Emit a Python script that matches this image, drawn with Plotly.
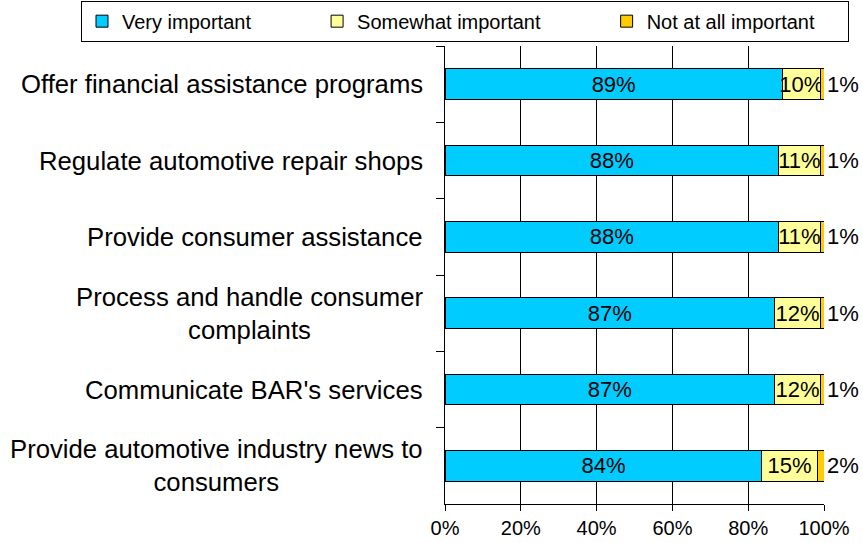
import plotly.graph_objects as go

categories = [
    "Offer financial assistance programs",
    "Regulate automotive repair shops",
    "Provide consumer assistance",
    "Process and handle consumer<br>complaints",
    "Communicate BAR's services",
    "Provide automotive industry news to<br>consumers",
]
very_important = [89, 88, 88, 87, 87, 83.6]
somewhat_important = [10, 11, 11, 12, 12, 14.6]
not_at_all_important = [1, 1, 1, 1, 1, 1.8]
series_names = ["Very important", "Somewhat important", "Not at all important"]
x_ticks = [0, 20, 40, 60, 80, 100]
x_tick_labels = ["0%", "20%", "40%", "60%", "80%", "100%"]

FONT = "Liberation Sans, Arial, sans-serif"
NB = "\u00a0"

fig = go.Figure()
specs = [
    (series_names[0], very_important, "#00CCFF", "inside", 11),
    (series_names[1], somewhat_important, "#FFFF99", "inside", 11),
    (series_names[2], not_at_all_important, "#FFCC00", "outside", 5),
]
for name, vals, color, pos, pad in specs:
    fig.add_trace(go.Bar(
        y=categories, x=vals, orientation="h", name=name + NB * pad,
        marker=dict(color=color, line=dict(color="black", width=1)),
        width=0.4,
        text=vals, texttemplate="%{x:.0f}%", textposition=pos,
        insidetextanchor="middle", constraintext="none",
        textfont=dict(family=FONT, size=22, color="black"),
        cliponaxis=False, hoverinfo="x+name",
    ))

for c in categories:
    fig.add_annotation(
        x=-0.0528, xref="paper", y=c, yref="y", text=c, showarrow=False,
        xanchor="right", yanchor="middle", align="center",
        font=dict(family=FONT, size=25.7, color="black"),
    )

fig.update_layout(
    barmode="stack",
    width=863, height=543,
    margin=dict(l=445, r=39, t=46, b=39, autoexpand=False),
    paper_bgcolor="white", plot_bgcolor="white",
    font=dict(family=FONT, color="black"),
    showlegend=True,
    legend=dict(
        orientation="h", x=-0.9604, xanchor="left", y=1.099, yanchor="top",
        bordercolor="black", borderwidth=1, bgcolor="white",
        font=dict(family=FONT, size=20, color="black"),
        traceorder="normal",
    ),
    xaxis=dict(
        range=[0, 100], tickmode="array", tickvals=x_ticks, ticktext=x_tick_labels,
        showgrid=True, gridcolor="black", gridwidth=1, zeroline=False,
        showline=True, linecolor="black", linewidth=1,
        ticks="outside", ticklen=6, tickcolor="black",
        tickfont=dict(family=FONT, size=20, color="black"),
    ),
    yaxis=dict(
        categoryorder="array", categoryarray=categories, autorange="reversed",
        showticklabels=False, showgrid=False, zeroline=False,
        showline=True, linecolor="black", linewidth=1,
        ticks="outside", tickson="boundaries", ticklen=8, tickcolor="black",
    ),
)

fig.write_html(
    "out.html",
    config={"displayModeBar": False},
    post_script="document.body.style.margin='0';document.body.style.overflow='hidden';",
)
